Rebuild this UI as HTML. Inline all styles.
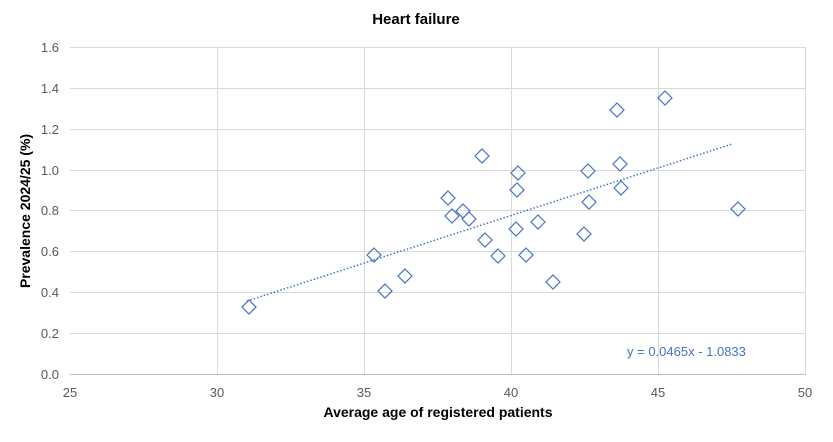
<!DOCTYPE html>
<html><head><meta charset="utf-8"><style>
body{margin:0;background:#fff;}
svg text{font-family:"Liberation Sans",Arial,sans-serif;}
</style></head><body>
<svg width="833" height="437" xmlns="http://www.w3.org/2000/svg">
<rect width="833" height="437" fill="#fff"/>
<text x="416" y="24" text-anchor="middle" font-size="15" font-weight="bold" fill="#000">Heart failure</text>
<g stroke="#d9d9d9" stroke-width="1">
<line x1="70" y1="47.5" x2="806" y2="47.5"/>
<line x1="70" y1="88.5" x2="806" y2="88.5"/>
<line x1="70" y1="129.5" x2="806" y2="129.5"/>
<line x1="70" y1="170.5" x2="806" y2="170.5"/>
<line x1="70" y1="210.5" x2="806" y2="210.5"/>
<line x1="70" y1="251.5" x2="806" y2="251.5"/>
<line x1="70" y1="292.5" x2="806" y2="292.5"/>
<line x1="70" y1="333.5" x2="806" y2="333.5"/>
<line x1="217.5" y1="47" x2="217.5" y2="374"/>
<line x1="364.5" y1="47" x2="364.5" y2="374"/>
<line x1="511.5" y1="47" x2="511.5" y2="374"/>
<line x1="658.5" y1="47" x2="658.5" y2="374"/>
<line x1="805.5" y1="47" x2="805.5" y2="374"/>
</g>
<line x1="70" y1="374.5" x2="806" y2="374.5" stroke="#bfbfbf"/>
<g font-size="13" fill="#595959" text-anchor="end">
<text x="59" y="52">1.6</text><text x="59" y="93">1.4</text><text x="59" y="134">1.2</text>
<text x="59" y="175">1.0</text><text x="59" y="215">0.8</text><text x="59" y="256">0.6</text>
<text x="59" y="297">0.4</text><text x="59" y="338">0.2</text><text x="59" y="379">0.0</text>
</g>
<g font-size="13" fill="#595959" text-anchor="middle">
<text x="70" y="397">25</text><text x="217" y="397">30</text><text x="364" y="397">35</text>
<text x="511" y="397">40</text><text x="658" y="397">45</text><text x="805" y="397">50</text>
</g>
<text x="438" y="417" text-anchor="middle" font-size="14" font-weight="bold" fill="#000">Average age of registered patients</text>
<text transform="translate(30,211) rotate(-90)" text-anchor="middle" font-size="14" font-weight="bold" fill="#000">Prevalence 2024/25 (%)</text>
<line x1="247" y1="301" x2="732" y2="144" stroke="#4472c4" stroke-width="1.5" stroke-dasharray="1.5,2"/>
<g fill="none" stroke="#4472c4" stroke-width="1.2">
<path d="M249,300l7,7l-7,7l-7,-7z"/>
<path d="M374,248l7,7l-7,7l-7,-7z"/>
<path d="M385,284l7,7l-7,7l-7,-7z"/>
<path d="M405,269l7,7l-7,7l-7,-7z"/>
<path d="M448,191l7,7l-7,7l-7,-7z"/>
<path d="M452,209l7,7l-7,7l-7,-7z"/>
<path d="M463,204l7,7l-7,7l-7,-7z"/>
<path d="M469,212l7,7l-7,7l-7,-7z"/>
<path d="M482,149l7,7l-7,7l-7,-7z"/>
<path d="M485,233l7,7l-7,7l-7,-7z"/>
<path d="M498,249l7,7l-7,7l-7,-7z"/>
<path d="M518,166l7,7l-7,7l-7,-7z"/>
<path d="M517,183l7,7l-7,7l-7,-7z"/>
<path d="M516,222l7,7l-7,7l-7,-7z"/>
<path d="M526,248l7,7l-7,7l-7,-7z"/>
<path d="M538,215l7,7l-7,7l-7,-7z"/>
<path d="M553,275l7,7l-7,7l-7,-7z"/>
<path d="M584,227l7,7l-7,7l-7,-7z"/>
<path d="M588,164l7,7l-7,7l-7,-7z"/>
<path d="M589,195l7,7l-7,7l-7,-7z"/>
<path d="M617,103l7,7l-7,7l-7,-7z"/>
<path d="M620,157l7,7l-7,7l-7,-7z"/>
<path d="M621,181l7,7l-7,7l-7,-7z"/>
<path d="M665,91l7,7l-7,7l-7,-7z"/>
<path d="M738,202l7,7l-7,7l-7,-7z"/>
</g>
<text x="627" y="356" font-size="13" fill="#4472c4">y = 0.0465x - 1.0833</text>
</svg>
</body></html>
